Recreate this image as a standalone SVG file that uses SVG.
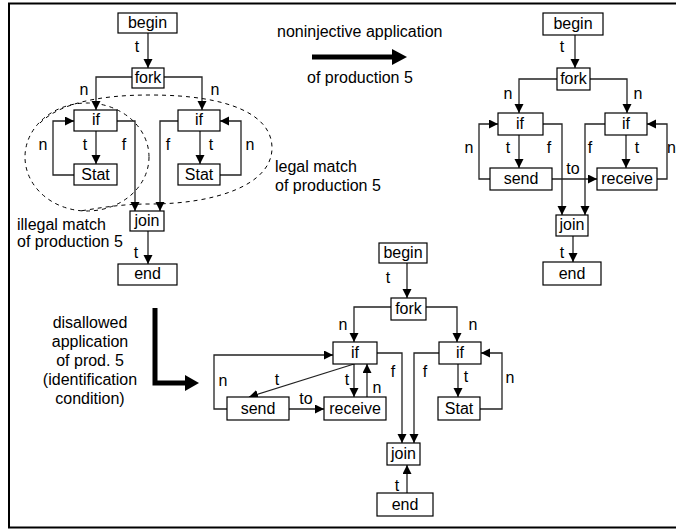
<svg xmlns="http://www.w3.org/2000/svg" width="676" height="529" viewBox="0 0 676 529">
<defs>
<marker id="ah" markerUnits="userSpaceOnUse" markerWidth="10" markerHeight="10" refX="9" refY="4.5" orient="auto">
<path d="M0,0 L9,4.5 L0,9 z" fill="#000"/>
</marker>
<style>
text{font-family:"Liberation Sans",Arial,sans-serif;font-size:16px;fill:#000}
.c text,.lbl{text-anchor:middle}
rect{fill:#fff;stroke:#000;stroke-width:1.2}
.e{fill:none;stroke:#222;stroke-width:1.3}
.a{marker-end:url(#ah)}
.d{fill:none;stroke:#000;stroke-width:1;stroke-dasharray:4,4}
.thick{fill:none;stroke:#000;stroke-width:5}
</style>
</defs>
<rect x="0" y="0" width="676" height="529" style="stroke:none;fill:#fff"/>
<path d="M680,3.5 H9 V527.5 H680" fill="none" stroke="#000" stroke-width="2"/>

<!-- dashed match regions -->
<g id="matches">
<ellipse class="d" cx="87" cy="157" rx="62" ry="54"/>
<path class="d" d="M40,123 C60,103 100,95 150,95 C230,95 272,115 272,148 C272,185 215,204 150,204 C120,204 100,208 80,211"/>
</g>

<!-- connectors -->
<g id="connectors">
<!-- left graph -->
<path class="e a" d="M148,33 V68"/>
<path class="e a" d="M132,77 H96 V110"/>
<path class="e a" d="M164,77 H202 V110"/>
<path class="e a" d="M96,131 V164"/>
<path class="e a" d="M74,175 H53 V121 H74"/>
<path class="e a" d="M117,121 H135 V211"/>
<path class="e a" d="M178,121 H160 V211"/>
<path class="e a" d="M200,131 V164"/>
<path class="e a" d="M220,175 H241 V121 H220"/>
<path class="e a" d="M148,231 V264"/>
<!-- right graph -->
<path class="e a" d="M575,35 V68"/>
<path class="e a" d="M557,79 H519 V113"/>
<path class="e a" d="M590,79 H627 V113"/>
<path class="e a" d="M519,135 V168"/>
<path class="e a" d="M626,135 V168"/>
<path class="e a" d="M490,179 H479 V124 H498"/>
<path class="e a" d="M657,179 H667 V124 H647"/>
<path class="e a" d="M543,124 H562 V215"/>
<path class="e a" d="M605,124 H585 V215"/>
<path class="e a" d="M552,179 H597"/>
<path class="e a" d="M573,236 V262"/>
<!-- bottom graph -->
<path class="e a" d="M407,263 V298"/>
<path class="e a" d="M391,307 H354 V342"/>
<path class="e a" d="M426,307 H457 V342"/>
<path class="e a" d="M354,364 L249,397"/>
<path class="e a" d="M354,364 V397"/>
<path class="e a" d="M367,397 V364"/>
<path class="e a" d="M289,409 H324"/>
<path class="e a" d="M227,409 H214 V355 H333"/>
<path class="e a" d="M377,353 H402 V443"/>
<path class="e a" d="M439,353 H414 V443"/>
<path class="e a" d="M458,364 V397"/>
<path class="e a" d="M480,409 H502 V353 H481"/>
<path class="e a" d="M407,493 V465"/>
<!-- big arrows -->
<path class="thick" d="M312,57 H394"/>
<polygon points="392,49 407,57 392,65" fill="#000"/>
<path class="thick" d="M155,308 V383 H187"/>
<polygon points="185,375 199,383 185,391" fill="#000"/>
</g>

<!-- edge labels -->
<g id="labels" class="c">
<text x="137" y="52">t</text>
<text x="84" y="95">n</text>
<text x="215" y="95">n</text>
<text x="85" y="150">t</text>
<text x="43" y="150">n</text>
<text x="124" y="150">f</text>
<text x="168" y="150">f</text>
<text x="211" y="150">t</text>
<text x="250" y="150">n</text>
<text x="136" y="258">t</text>

<text x="562" y="52">t</text>
<text x="508" y="99">n</text>
<text x="638" y="99">n</text>
<text x="508" y="153">t</text>
<text x="637" y="153">t</text>
<text x="469" y="153">n</text>
<text x="671.5" y="153">n</text>
<text x="549" y="153">f</text>
<text x="590" y="153">f</text>
<text x="573" y="174">to</text>
<text x="562" y="258">t</text>

<text x="388" y="283">t</text>
<text x="343" y="330">n</text>
<text x="473" y="330">n</text>
<text x="277" y="385">t</text>
<text x="347" y="385">t</text>
<text x="377" y="393">n</text>
<text x="306" y="404">to</text>
<text x="223" y="386">n</text>
<text x="393" y="377">f</text>
<text x="425" y="377">f</text>
<text x="466" y="382">t</text>
<text x="510" y="383">n</text>
<text x="397" y="491">t</text>
</g>

<!-- annotations -->
<g id="annotations">
<text x="17" y="230">illegal match</text>
<text x="17" y="247">of production 5</text>
<text x="275" y="172">legal match</text>
<text x="275" y="191">of production 5</text>
<text x="277" y="37">noninjective application</text>
<text x="307" y="83">of production 5</text>
<g class="c">
<text x="90" y="328">disallowed</text>
<text x="90" y="347">application</text>
<text x="90" y="366">of prod. 5</text>
<text x="90" y="385">(identification</text>
<text x="90" y="404">condition)</text>
</g>
</g>

<!-- left graph nodes -->
<g id="L_begin" class="c"><rect x="118" y="13" width="59" height="20"/><text x="147.5" y="28">begin</text></g>
<g id="L_fork" class="c"><rect x="132" y="68" width="32" height="20"/><text x="148" y="83">fork</text></g>
<g id="L_if1" class="c"><rect x="74" y="110" width="43" height="21"/><text x="96" y="125">if</text></g>
<g id="L_if2" class="c"><rect x="178" y="110" width="42" height="21"/><text x="199" y="125">if</text></g>
<g id="L_stat1" class="c"><rect x="74" y="164" width="43" height="21"/><text x="95.5" y="180">Stat</text></g>
<g id="L_stat2" class="c"><rect x="178" y="164" width="42" height="21"/><text x="199" y="180">Stat</text></g>
<g id="L_join" class="c"><rect x="130" y="211" width="34" height="20"/><text x="147" y="226">join</text></g>
<g id="L_end" class="c"><rect x="118" y="264" width="59" height="21"/><text x="147.5" y="279">end</text></g>

<!-- right graph nodes -->
<g id="R_begin" class="c"><rect x="543" y="13" width="60" height="22"/><text x="573" y="29">begin</text></g>
<g id="R_fork" class="c"><rect x="557" y="68" width="33" height="22"/><text x="573.5" y="84">fork</text></g>
<g id="R_if1" class="c"><rect x="498" y="113" width="45" height="22"/><text x="520" y="129">if</text></g>
<g id="R_if2" class="c"><rect x="605" y="113" width="42" height="22"/><text x="626" y="129">if</text></g>
<g id="R_send" class="c"><rect x="490" y="168" width="62" height="22"/><text x="521" y="184">send</text></g>
<g id="R_receive" class="c"><rect x="597" y="168" width="60" height="22"/><text x="627" y="184">receive</text></g>
<g id="R_join" class="c"><rect x="556" y="215" width="32" height="21"/><text x="572" y="230">join</text></g>
<g id="R_end" class="c"><rect x="543" y="262" width="58" height="23"/><text x="572" y="279">end</text></g>

<!-- bottom graph nodes -->
<g id="B_begin" class="c"><rect x="379" y="243" width="48" height="20"/><text x="403" y="258">begin</text></g>
<g id="B_fork" class="c"><rect x="391" y="298" width="35" height="22"/><text x="408.5" y="314">fork</text></g>
<g id="B_if1" class="c"><rect x="333" y="342" width="44" height="22"/><text x="355" y="358">if</text></g>
<g id="B_if2" class="c"><rect x="439" y="342" width="42" height="22"/><text x="460" y="358">if</text></g>
<g id="B_send" class="c"><rect x="227" y="397" width="62" height="23"/><text x="258" y="414">send</text></g>
<g id="B_receive" class="c"><rect x="324" y="397" width="62" height="23"/><text x="355" y="414">receive</text></g>
<g id="B_stat" class="c"><rect x="438" y="397" width="42" height="23"/><text x="459" y="414">Stat</text></g>
<g id="B_join" class="c"><rect x="387" y="443" width="33" height="22"/><text x="403.5" y="459">join</text></g>
<g id="B_end" class="c"><rect x="377" y="493" width="56" height="23"/><text x="405" y="510">end</text></g>
</svg>
